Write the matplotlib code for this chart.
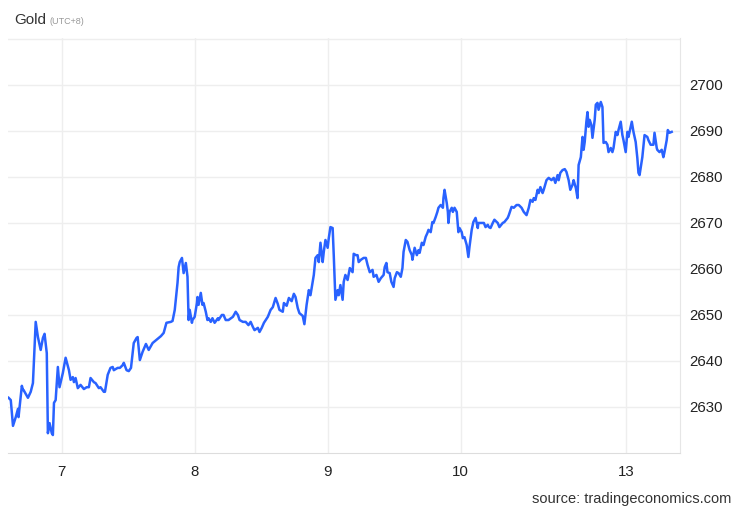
import matplotlib
matplotlib.use("Agg")
import matplotlib.pyplot as plt

# Gold price, hours from 7 Jan 00:00 (UTC+8, weekend gap removed) and price in USD
hours = [
    -9.6, -9.2, -8.8, -8.3, -7.9, -7.8, -7.2, -7.0, -6.9, -6.1, -5.6, -5.2, -4.7, -4.3, -3.8,
    -3.4, -3.1, -2.7, -2.5, -2.2, -1.8, -1.6, -1.4, -1.1, -0.7, -0.4, 0.2, 0.7, 1.3, 1.6,
    2.0, 2.2, 2.5, 2.9, 3.4, 4.0, 4.5, 4.9, 5.2, 5.8, 6.1, 6.7, 7.0, 7.6, 7.8,
    8.3, 8.8, 9.2, 9.4, 10.1, 10.5, 11.0, 11.2, 11.7, 12.1, 12.5, 13.0, 13.5, 13.7, 14.1,
    14.6, 15.2, 15.7, 16.4, 17.1, 17.9, 18.4, 18.9, 19.7, 20.0, 20.4, 20.9, 21.1, 21.3, 21.7,
    22.0, 22.4, 22.7, 22.9, 23.1, 23.5, 23.6, 24.0, 24.4, 24.5, 24.7, 25.1, 25.4, 25.6, 26.0,
    26.3, 26.5, 26.9, 27.2, 27.6, 28.2, 28.3, 28.9, 29.2, 29.6, 30.1, 30.9, 31.4, 31.8, 32.1,
    32.7, 33.2, 33.7, 34.1, 34.5, 34.8, 35.4, 35.7, 36.1, 36.5, 37.2, 37.7, 38.1, 38.6,
    39.0, 39.3, 39.9, 40.1, 40.6, 41.0, 41.5, 41.9, 42.2, 42.6, 42.9, 43.5, 43.8, 44.2, 44.6,
    44.9, 45.5, 45.8, 46.2, 46.4, 46.7, 47.1, 47.3, 47.6, 48.0, 48.2, 48.5, 48.9, 49.1, 49.4,
    49.8, 50.0, 50.3, 50.7, 50.9, 51.2, 51.6, 52.0, 52.5, 52.7, 53.1, 53.4, 53.6, 54.0, 54.5,
    54.9, 55.2, 55.6, 56.1, 56.3, 56.8, 57.2, 57.6, 58.1, 58.3, 58.6, 58.8, 59.2, 59.5, 59.9,
    60.1, 60.5, 60.8, 61.2, 61.5, 61.7, 62.1, 62.4, 62.8, 63.2, 63.3, 63.7, 64.1, 64.4, 64.6,
    65.0, 65.3, 65.7, 66.0, 66.2, 66.6, 66.9, 67.1, 67.5, 67.8, 68.0, 68.4, 68.8, 68.9, 69.1,
    69.5, 69.7, 69.8, 70.0, 70.4, 70.6, 70.9, 71.3, 71.6, 71.8, 72.2, 72.4, 72.7, 73.1, 73.4,
    73.6, 74.0, 74.3, 74.7, 75.1, 75.2, 75.8, 76.2, 76.5, 76.9, 77.1, 77.4, 77.8, 78.1, 78.7,
    79.0, 79.6, 79.9, 80.5, 80.7, 81.2, 81.6, 82.1, 82.5, 83.0, 83.4, 83.9, 84.3, 84.6, 85.0,
    85.2, 85.5, 85.9, 86.1, 86.4, 86.8, 87.0, 87.5, 87.9, 88.4, 88.8, 89.1, 89.5, 89.7, 90.0,
    90.4, 90.8, 91.1, 91.5, 91.8, 92.2, 92.4, 92.8, 93.1, 93.3, 93.7, 94.0, 94.2, 94.4, 94.7,
    94.9, 95.1, 95.3, 95.6, 95.8, 96.2, 96.4, 96.7, 96.9, 97.3, 97.6, 97.8, 98.2, 98.5, 98.7,
    99.1, 99.4, 99.6, 100.0, 100.3, 100.5, 100.9, 101.2, 101.4, 101.8, 102.1, 102.3, 102.9, 103.2, 103.6,
    103.9, 104.1, 104.3, 104.8, 105.2, 105.7, 105.9, 106.3, 106.8, 107.0, 107.4, 107.5, 107.9, 108.3, 108.6,
    108.8, 109.2, 109.4, 109.7, 110.1,
]
price = [
    2632.0, 2631.5, 2625.9, 2627.8, 2629.6, 2627.8, 2634.6, 2633.7, 2633.7, 2632.0, 2633.3, 2635.2, 2648.5, 2645.2, 2642.4,
    2645.0, 2645.9, 2641.7, 2624.3, 2626.5, 2624.3, 2623.9, 2630.9, 2631.5, 2638.7, 2634.3, 2637.4, 2640.7, 2638.0, 2635.9,
    2636.5, 2635.4, 2636.3, 2634.1, 2634.8, 2633.9, 2634.3, 2634.3, 2636.3, 2635.4, 2635.2, 2634.1, 2634.3, 2633.3, 2633.3,
    2637.0, 2638.5, 2638.7, 2638.0, 2638.5, 2638.5, 2639.1, 2639.6, 2638.0, 2637.8, 2638.5, 2643.9, 2645.0, 2645.2, 2640.2,
    2642.0, 2643.7, 2642.4, 2643.9, 2644.6, 2645.4, 2646.1, 2648.3, 2648.5, 2648.7, 2651.1, 2657.0, 2660.4, 2661.5, 2662.4,
    2659.1, 2661.3, 2658.3, 2648.9, 2651.1, 2648.3, 2648.9, 2649.6, 2652.6, 2653.9, 2652.2, 2654.8, 2652.2, 2652.6, 2650.7,
    2648.9, 2649.3, 2648.5, 2649.3, 2648.3, 2649.3, 2648.9, 2650.0, 2650.0, 2648.9, 2648.9, 2649.6, 2650.7, 2650.0, 2648.9,
    2648.5, 2648.5, 2647.8, 2648.5, 2647.4, 2646.7, 2647.2, 2646.3, 2647.2, 2648.3, 2649.6, 2651.1, 2651.7, 2653.7,
    2652.4, 2651.1, 2650.7, 2652.6, 2652.0, 2653.7, 2653.0, 2654.6, 2653.9, 2651.5, 2650.4, 2649.8, 2648.0, 2652.2, 2655.4,
    2654.3, 2658.7, 2662.4, 2663.0, 2661.5, 2665.7, 2661.5, 2663.7, 2666.3, 2664.6, 2666.7, 2669.1, 2668.9, 2663.0, 2653.3,
    2655.4, 2654.3, 2656.5, 2653.3, 2657.2, 2658.7, 2657.6, 2660.2, 2659.3, 2663.3, 2663.0, 2663.0, 2661.5, 2662.0, 2662.4,
    2662.4, 2660.9, 2659.3, 2659.8, 2658.3, 2658.7, 2657.2, 2658.0, 2658.7, 2660.4, 2661.3, 2659.3, 2659.1, 2657.2, 2656.1,
    2658.0, 2659.3, 2659.1, 2658.3, 2660.2, 2663.7, 2666.3, 2665.9, 2664.1, 2663.0, 2662.0, 2664.6, 2663.0, 2664.1, 2663.5,
    2665.7, 2665.2, 2667.0, 2667.8, 2668.5, 2668.0, 2670.2, 2670.0, 2671.3, 2672.4, 2673.3, 2673.9, 2673.3, 2675.4, 2677.2,
    2674.3, 2672.4, 2670.0, 2672.4, 2673.3, 2672.4, 2673.3, 2672.4, 2668.0, 2668.9, 2668.0, 2666.7, 2666.9, 2665.2, 2662.6,
    2664.8, 2668.5, 2670.2, 2671.1, 2668.9, 2670.0, 2670.0, 2670.0, 2669.1, 2669.6, 2669.1, 2668.9, 2670.0, 2670.7, 2670.0,
    2669.1, 2670.0, 2670.2, 2671.1, 2671.7, 2673.5, 2673.3, 2673.9, 2673.9, 2673.3, 2672.4, 2671.7, 2673.3, 2675.0, 2674.6,
    2675.4, 2675.0, 2677.2, 2676.5, 2677.8, 2676.5, 2677.2, 2679.3, 2679.8, 2679.3, 2679.8, 2678.7, 2680.4, 2679.3, 2680.9,
    2681.5, 2681.7, 2681.1, 2679.3, 2677.2, 2678.3, 2679.3, 2677.6, 2675.4, 2682.6, 2684.3, 2688.7, 2685.9, 2687.6, 2692.0,
    2694.1, 2690.9, 2692.4, 2691.3, 2688.5, 2692.4, 2695.7, 2696.1, 2694.6, 2696.3, 2695.2, 2687.4, 2687.6, 2687.0, 2685.4,
    2686.3, 2685.4, 2686.3, 2689.8, 2689.1, 2690.2, 2692.0, 2689.1, 2688.0, 2685.4, 2689.8, 2688.7, 2692.0, 2689.8, 2687.6,
    2684.1, 2680.9, 2680.4, 2684.3, 2689.1, 2688.7, 2688.0, 2687.0, 2687.0, 2689.6, 2686.3, 2685.9, 2685.4, 2685.9, 2684.3,
    2685.4, 2688.0, 2690.2, 2689.6, 2689.8,
]

day_pos = [0, 24, 48, 72, 101.8]
day_labels = ["7", "8", "9", "10", "13"]
y_ticks = [2630, 2640, 2650, 2660, 2670, 2680, 2690, 2700]

plt.rcParams["font.family"] = ["Liberation Sans", "DejaVu Sans"]

fig = plt.figure(figsize=(7.4, 5.13), dpi=100)
ax = fig.add_axes([8 / 740, 60 / 513, 672 / 740, 415 / 513])

ax.plot(hours, price, color="#2962ff", linewidth=1.8, solid_joinstyle="round")

ax.set_xlim(-9.7, 111.6)
ax.set_ylim(2620, 2710.2)

ax.set_xticks(day_pos)
ax.set_xticklabels(day_labels)
ax.set_yticks(y_ticks + [2710])
ax.set_yticklabels([str(v) for v in y_ticks] + [""])
ax.yaxis.tick_right()
ax.tick_params(axis="both", length=0, labelsize=10.8, colors="#222222")
ax.tick_params(axis="x", pad=9)
ax.tick_params(axis="y", pad=7)

ax.grid(True, color="#eeeeee", linewidth=1)
ax.set_axisbelow(True)
for s in ["left", "top"]:
    ax.spines[s].set_visible(False)
ax.spines["right"].set_color("#e6e6e6")
ax.spines["bottom"].set_color("#dddddd")

fig.text(14 / 740, 1 - 20 / 513, "Gold", fontsize=11, color="#333333", va="center")
fig.text(49 / 740, 1 - 21 / 513, "(UTC+8)", fontsize=6.5, color="#999999", va="center")
fig.text(731 / 740, 1 - 499 / 513, "source: tradingeconomics.com", fontsize=10.5,
         color="#333333", ha="right", va="center")

fig.savefig("out.png", dpi=100)
